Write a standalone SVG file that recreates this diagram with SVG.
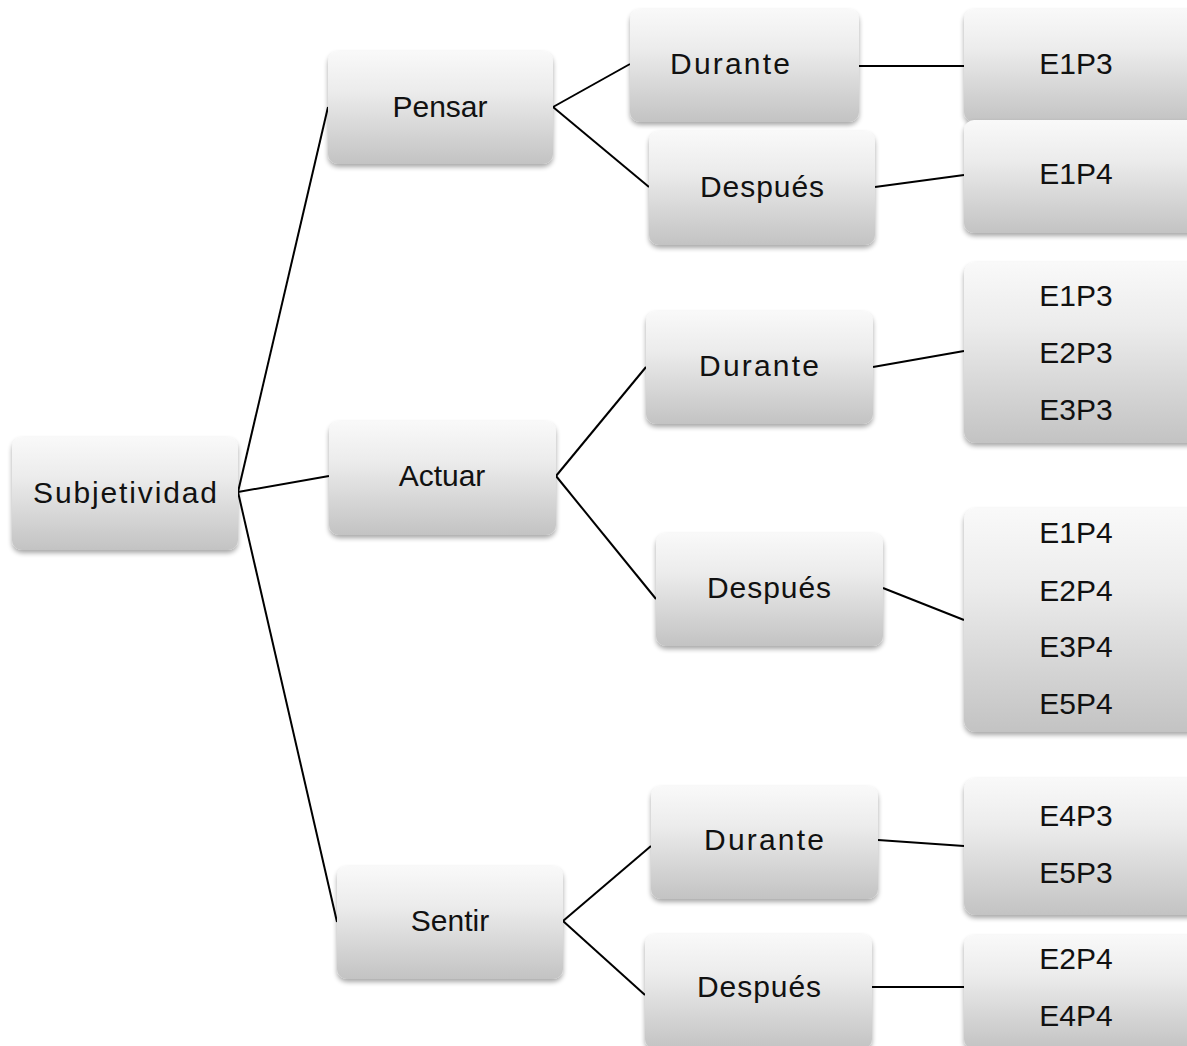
<svg xmlns="http://www.w3.org/2000/svg" width="1187" height="1046" viewBox="0 0 1187 1046">
<defs>
<linearGradient id="g" x1="0" y1="0" x2="0" y2="1">
<stop offset="0" stop-color="#f9f9f9"/>
<stop offset="0.35" stop-color="#ececec"/>
<stop offset="1" stop-color="#c3c3c3"/>
</linearGradient>
<filter id="sh" x="-10%" y="-10%" width="120%" height="130%">
<feGaussianBlur in="SourceAlpha" stdDeviation="2.5"/>
<feOffset dx="0" dy="3" result="b"/>
<feComponentTransfer><feFuncA type="linear" slope="0.35"/></feComponentTransfer>
<feMerge><feMergeNode/><feMergeNode in="SourceGraphic"/></feMerge>
</filter>
<style>
.box{fill:url(#g);filter:url(#sh)}
.t{font-family:"Liberation Sans",Arial,sans-serif;font-size:30px;fill:#111;text-anchor:middle}
.c{stroke:#000;stroke-width:2;fill:none}
</style>
</defs>
<rect width="1187" height="1046" fill="#fff"/>
<g id="connectors">
<line class="c" x1="238" y1="492" x2="328" y2="107"/>
<line class="c" x1="238" y1="492" x2="329" y2="476"/>
<line class="c" x1="238" y1="492" x2="337" y2="922"/>
<line class="c" x1="553" y1="107" x2="630" y2="64"/>
<line class="c" x1="553" y1="107" x2="649" y2="187"/>
<line class="c" x1="859" y1="66" x2="964" y2="66"/>
<line class="c" x1="875" y1="187" x2="964" y2="175"/>
<line class="c" x1="556" y1="476" x2="646" y2="367"/>
<line class="c" x1="556" y1="476" x2="656" y2="599"/>
<line class="c" x1="873" y1="367" x2="964" y2="351"/>
<line class="c" x1="883" y1="588" x2="964" y2="620"/>
<line class="c" x1="563" y1="921" x2="651" y2="846"/>
<line class="c" x1="563" y1="921" x2="645" y2="995"/>
<line class="c" x1="878" y1="840" x2="964" y2="846"/>
<line class="c" x1="872" y1="987" x2="964" y2="987"/>
</g>
<g id="n-subjetividad"><rect class="box" x="12" y="437" width="226" height="113" rx="10"/><text class="t" x="125" y="503" textLength="184" lengthAdjust="spacing">Subjetividad</text></g>
<g id="n-pensar"><rect class="box" x="328" y="51" width="225" height="113" rx="10"/><text class="t" x="440" y="117">Pensar</text></g>
<g id="n-actuar"><rect class="box" x="329" y="421" width="227" height="114" rx="10"/><text class="t" x="442" y="486">Actuar</text></g>
<g id="n-sentir"><rect class="box" x="337" y="866" width="226" height="113" rx="10"/><text class="t" x="450" y="931">Sentir</text></g>
<g id="n-durante1"><rect class="box" x="630" y="9" width="229" height="113" rx="10"/><text class="t" x="730" y="74" textLength="120" lengthAdjust="spacing">Durante</text></g>
<g id="n-despues1"><rect class="box" x="649" y="131" width="226" height="114" rx="10"/><text class="t" x="762" y="197" textLength="124" lengthAdjust="spacing">Después</text></g>
<g id="n-durante2"><rect class="box" x="646" y="311" width="227" height="113" rx="10"/><text class="t" x="759" y="376" textLength="120" lengthAdjust="spacing">Durante</text></g>
<g id="n-despues2"><rect class="box" x="656" y="533" width="227" height="113" rx="10"/><text class="t" x="769" y="598" textLength="124" lengthAdjust="spacing">Después</text></g>
<g id="n-durante3"><rect class="box" x="651" y="786" width="227" height="113" rx="10"/><text class="t" x="764" y="850" textLength="120" lengthAdjust="spacing">Durante</text></g>
<g id="n-despues3"><rect class="box" x="645" y="934" width="227" height="115" rx="10"/><text class="t" x="759" y="997" textLength="124" lengthAdjust="spacing">Después</text></g>
<g id="n-e1p3a"><rect class="box" x="964" y="9" width="236" height="113" rx="10"/><text class="t" x="1076" y="74">E1P3</text></g>
<g id="n-e1p4a"><rect class="box" x="964" y="120" width="236" height="113" rx="10"/><text class="t" x="1076" y="184">E1P4</text></g>
<g id="n-p3list"><rect class="box" x="964" y="262" width="236" height="181" rx="12"/><text class="t" x="1076" y="306">E1P3</text><text class="t" x="1076" y="363">E2P3</text><text class="t" x="1076" y="420">E3P3</text></g>
<g id="n-p4list"><rect class="box" x="964" y="508" width="236" height="224" rx="12"/><text class="t" x="1076" y="543">E1P4</text><text class="t" x="1076" y="601">E2P4</text><text class="t" x="1076" y="657">E3P4</text><text class="t" x="1076" y="714">E5P4</text></g>
<g id="n-p3list2"><rect class="box" x="964" y="778" width="236" height="137" rx="12"/><text class="t" x="1076" y="826">E4P3</text><text class="t" x="1076" y="883">E5P3</text></g>
<g id="n-p4list2"><rect class="box" x="964" y="935" width="236" height="114" rx="10"/><text class="t" x="1076" y="969">E2P4</text><text class="t" x="1076" y="1026">E4P4</text></g>
</svg>
